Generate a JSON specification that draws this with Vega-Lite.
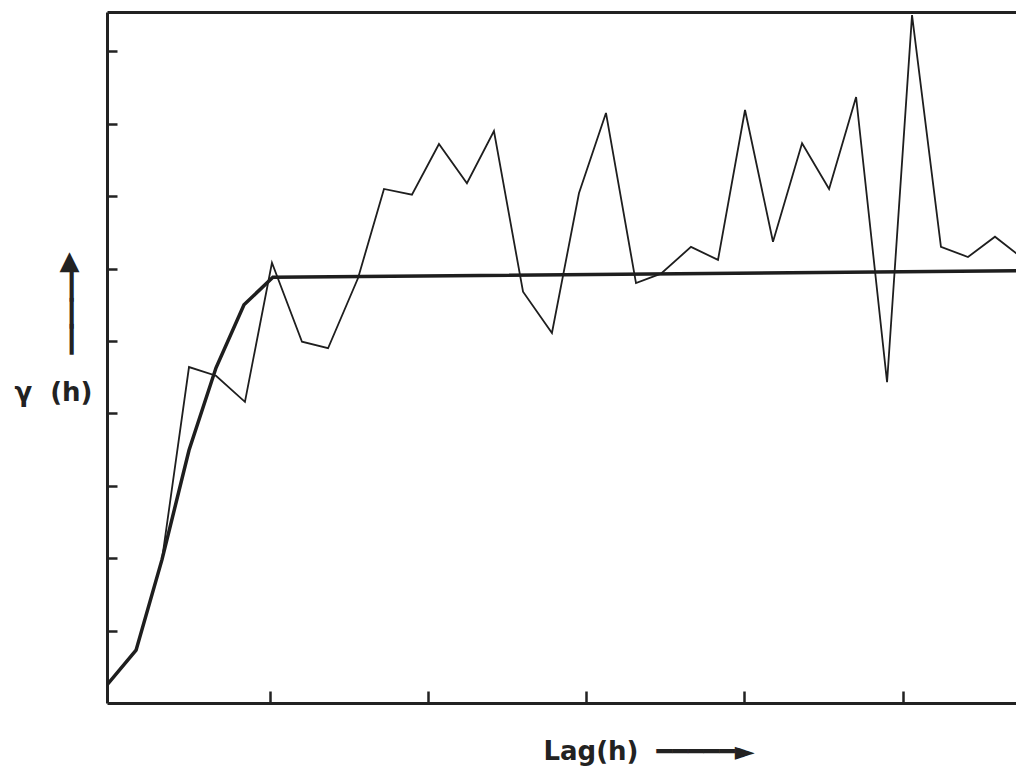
{
  "$schema": "https://vega.github.io/schema/vega-lite/v6.json",
  "width": 909,
  "height": 691,
  "autosize": {"type": "none"},
  "padding": {"left": 107, "top": 12, "right": 0, "bottom": 63},
  "background": "white",
  "config": {"view": {"stroke": null}},
  "data": {
    "values": [
      {"lag": 0, "gamma": 0.25, "series": "experimental"},
      {"lag": 1.84, "gamma": 0.73, "series": "experimental"},
      {"lag": 3.48, "gamma": 1.98, "series": "experimental"},
      {"lag": 5.19, "gamma": 4.64, "series": "experimental"},
      {"lag": 6.9, "gamma": 4.52, "series": "experimental"},
      {"lag": 8.73, "gamma": 4.16, "series": "experimental"},
      {"lag": 10.44, "gamma": 6.08, "series": "experimental"},
      {"lag": 12.34, "gamma": 4.99, "series": "experimental"},
      {"lag": 13.99, "gamma": 4.9, "series": "experimental"},
      {"lag": 15.89, "gamma": 5.87, "series": "experimental"},
      {"lag": 17.53, "gamma": 7.1, "series": "experimental"},
      {"lag": 19.3, "gamma": 7.02, "series": "experimental"},
      {"lag": 21.01, "gamma": 7.72, "series": "experimental"},
      {"lag": 22.78, "gamma": 7.18, "series": "experimental"},
      {"lag": 24.49, "gamma": 7.9, "series": "experimental"},
      {"lag": 26.33, "gamma": 5.68, "series": "experimental"},
      {"lag": 28.16, "gamma": 5.11, "series": "experimental"},
      {"lag": 29.87, "gamma": 7.04, "series": "experimental"},
      {"lag": 31.58, "gamma": 8.15, "series": "experimental"},
      {"lag": 33.48, "gamma": 5.8, "series": "experimental"},
      {"lag": 35.06, "gamma": 5.93, "series": "experimental"},
      {"lag": 36.96, "gamma": 6.3, "series": "experimental"},
      {"lag": 38.67, "gamma": 6.12, "series": "experimental"},
      {"lag": 40.38, "gamma": 8.19, "series": "experimental"},
      {"lag": 42.15, "gamma": 6.37, "series": "experimental"},
      {"lag": 43.99, "gamma": 7.73, "series": "experimental"},
      {"lag": 45.7, "gamma": 7.1, "series": "experimental"},
      {"lag": 47.41, "gamma": 8.37, "series": "experimental"},
      {"lag": 49.37, "gamma": 4.43, "series": "experimental"},
      {"lag": 50.95, "gamma": 9.5, "series": "experimental"},
      {"lag": 52.78, "gamma": 6.3, "series": "experimental"},
      {"lag": 54.49, "gamma": 6.16, "series": "experimental"},
      {"lag": 56.2, "gamma": 6.44, "series": "experimental"},
      {"lag": 57.91, "gamma": 6.15, "series": "experimental"},
      {"lag": 0, "gamma": 0.25, "series": "model"},
      {"lag": 1.84, "gamma": 0.73, "series": "model"},
      {"lag": 3.48, "gamma": 1.98, "series": "model"},
      {"lag": 5.19, "gamma": 3.49, "series": "model"},
      {"lag": 6.9, "gamma": 4.63, "series": "model"},
      {"lag": 8.67, "gamma": 5.5, "series": "model"},
      {"lag": 10.5, "gamma": 5.88, "series": "model"},
      {"lag": 57.6, "gamma": 5.97, "series": "model"}
    ]
  },
  "layer": [
    {
      "transform": [{"filter": "datum.series === 'experimental'"}],
      "mark": {"type": "line", "color": "#1e1e1e", "strokeWidth": 1.8, "clip": true},
      "encoding": {
        "x": {
          "field": "lag",
          "type": "quantitative",
          "scale": {"domain": [0, 57.53], "nice": false, "zero": false},
          "axis": {
            "values": [10.3, 20.3, 30.3, 40.3, 50.4],
            "tickSize": -12,
            "tickWidth": 2.5,
            "tickColor": "#222222",
            "labels": false,
            "grid": false,
            "domainWidth": 3,
            "domainColor": "#222222",
            "title": "Lag(h)\u00a0\u00a0━━━━━►",
            "titleFont": "DejaVu Sans",
            "titleFontWeight": "bold",
            "titleFontSize": 26,
            "titleColor": "#222222",
            "titleAlign": "left",
            "titleBaseline": "alphabetic",
            "titleX": 436,
            "titleY": 56
          }
        },
        "y": {
          "field": "gamma",
          "type": "quantitative",
          "scale": {"domain": [0, 9.544], "nice": false},
          "axis": {
            "values": [1, 2, 3, 4, 5, 6, 7, 8, 9],
            "tickSize": -10,
            "tickWidth": 2.5,
            "tickColor": "#222222",
            "labels": false,
            "grid": false,
            "domainWidth": 3,
            "domainColor": "#222222",
            "title": ["▲\u2002\u200b", "┃\u2002\u200b", "┃\u2002\u200b", "┃\u2002\u200b", "\u200b", "γ\u00a0\u00a0(h)"],
            "titleFont": "DejaVu Sans",
            "titleFontWeight": "bold",
            "titleFontSize": 26,
            "titleLineHeight": 26.5,
            "titleColor": "#222222",
            "titleAngle": 0,
            "titleAlign": "right",
            "titleBaseline": "alphabetic",
            "titleX": -15,
            "titleY": 256
          }
        }
      }
    },
    {
      "transform": [{"filter": "datum.series === 'model'"}],
      "mark": {"type": "line", "color": "#1e1e1e", "strokeWidth": 3.5, "clip": true},
      "encoding": {
        "x": {
          "field": "lag",
          "type": "quantitative",
          "axis": {
            "orient": "top",
            "ticks": false,
            "labels": false,
            "grid": false,
            "title": null,
            "domainWidth": 3,
            "domainColor": "#222222"
          }
        },
        "y": {"field": "gamma", "type": "quantitative"}
      }
    }
  ],
  "resolve": {"axis": {"x": "independent"}}
}
